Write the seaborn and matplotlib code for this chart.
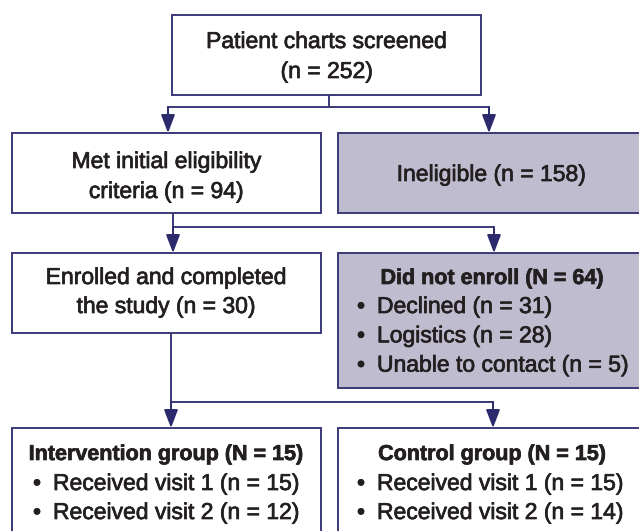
import seaborn as sns
import matplotlib.pyplot as plt
import matplotlib.patheffects as pe
from matplotlib.patches import Rectangle

# conteos del diagrama de flujo
screened = 252
eligible = 94
ineligible = 158
enrolled = 30
not_enrolled = 64
reasons = ['Declined', 'Logistics', 'Unable to contact']
reason_n = [31, 28, 5]
groups = ['Intervention group', 'Control group']
group_n = [15, 15]
visit1_n = [15, 15]
visit2_n = [12, 14]

sns.set_theme(style='white')
plt.rcParams['font.family'] = ['Liberation Sans', 'DejaVu Sans']

EDGE = '#3b3a78'
ARROW = '#2a2a6c'
GRAY = '#bfbcd0'
TXT = '#231f20'
FS = 16.5
FS_BOLD = 15.5

fig = plt.figure(figsize=(6.39, 5.31), dpi=100)
ax = fig.add_axes([0, 0, 1, 1])
ax.set_xlim(0, 639)
ax.set_ylim(531, 0)
ax.axis('off')


def box(x0, y0, x1, y1, fill='white'):
    ax.add_patch(Rectangle((x0, y0), x1 - x0, y1 - y0, facecolor=fill,
                           edgecolor=EDGE, linewidth=1.4, zorder=2))


def split(xs, y_top, y_mid, xl, xr, y_end):
    ax.plot([xs, xs], [y_top, y_mid], color=EDGE, lw=1.4, zorder=1)
    ax.plot([xl, xr], [y_mid, y_mid], color=EDGE, lw=1.4, zorder=1)
    for x in (xl, xr):
        ax.annotate('', xy=(x, y_end), xytext=(x, y_mid),
                    arrowprops=dict(arrowstyle='-|>,head_length=1.1,head_width=0.42',
                                    mutation_scale=10, color=ARROW, lw=1.4,
                                    shrinkA=0, shrinkB=0), zorder=3)


def label(x, y, s, ha='center', bold=False):
    ax.text(x, y, s, ha=ha, va='baseline', color=TXT,
            fontsize=FS_BOLD if bold else FS,
            fontweight='bold' if bold else 'normal', zorder=4,
            path_effects=[pe.withStroke(linewidth=0.5, foreground=TXT)])


def bullet(x, y, s):
    label(x, y, '\u2022', ha='left')
    label(x + 20, y, s, ha='left')


# cajas
box(172, 15, 481, 95)
box(12, 133, 321, 213)
box(338, 133, 640, 213, GRAY)
box(12, 253, 321, 333)
box(338, 253, 640, 388, GRAY)
box(12, 428, 321, 545)
box(338, 428, 640, 545)

# conectores
split(329, 95, 107, 168, 489, 133)
split(173, 213, 227, 173, 494, 253)
split(171, 333, 402, 171, 493, 428)

# textos
label(326.5, 48, 'Patient charts screened')
label(326.5, 78, f'(n = {screened})')
label(166, 168, 'Met initial eligibility')
label(166, 198, f'criteria (n = {eligible})')
label(491, 181, f'Ineligible (n = {ineligible})')
label(166, 284, 'Enrolled and completed')
label(166, 313, f'the study (n = {enrolled})')

label(492, 284, f'Did not enroll (N = {not_enrolled})', bold=True)
for i, (r, n) in enumerate(zip(reasons, reason_n)):
    bullet(357, 313 + i * 29.3, f'{r} (n = {n})')

for gx, bx, g, n, v1, v2 in zip([166, 492], [33, 357], groups, group_n, visit1_n, visit2_n):
    label(gx, 460, f'{g} (N = {n})', bold=True)
    bullet(bx, 490, f'Received visit 1 (n = {v1})')
    bullet(bx, 519, f'Received visit 2 (n = {v2})')

plt.savefig('out.png', dpi=100)
